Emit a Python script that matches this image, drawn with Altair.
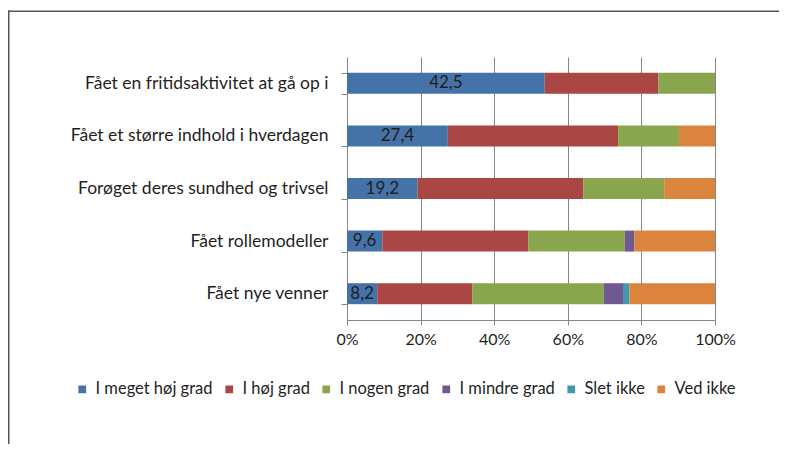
import altair as alt
import pandas as pd

categories = [
    "Fået en fritidsaktivitet at gå op i",
    "Fået et større indhold i hverdagen",
    "Forøget deres sundhed og trivsel",
    "Fået rollemodeller",
    "Fået nye venner",
]
series = ["I meget høj grad", "I høj grad", "I nogen grad", "I mindre grad", "Slet ikke", "Ved ikke"]
colors = ["#4572A7", "#AA4643", "#89A54E", "#71588F", "#4198AF", "#DB843D"]

meget_hoej = [42.5, 27.4, 19.2, 9.6, 8.2]
hoej = [24.4, 46.3, 45.0, 39.7, 25.9]
nogen = [12.2, 16.5, 22.0, 26.2, 35.7]
mindre = [0.0, 0.0, 0.0, 2.6, 5.2]
slet_ikke = [0.0, 0.0, 0.0, 0.0, 1.7]
ved_ikke = [0.0, 9.8, 13.8, 21.9, 23.3]

values = [meget_hoej, hoej, nogen, mindre, slet_ikke, ved_ikke]
rows = []
for si, s in enumerate(series):
    for ci, c in enumerate(categories):
        rows.append({"cat": c, "series": s, "order": si, "value": values[si][ci]})
df = pd.DataFrame(rows)

FONT = "Lato"
TXT = "#1f1f1f"

base = alt.Chart(df).transform_stack(
    stack="value", groupby=["cat"], as_=["v0", "v1"], offset="normalize",
    sort=[alt.SortField("order", order="ascending")]
)

y_enc = alt.Y("cat:N", sort=categories, title=None,
              scale=alt.Scale(paddingInner=0.6, paddingOuter=0.3),
              axis=alt.Axis(tickBand="extent", tickSize=6, tickColor="#868686",
                            domainColor="#868686", labelFont=FONT, labelFontSize=17.5,
                            labelColor=TXT, labelPadding=13, labelLimit=400, grid=False))

bars = base.mark_bar(size=21).encode(
    x=alt.X("v0:Q", title=None,
            scale=alt.Scale(domain=[0, 1], nice=False),
            axis=alt.Axis(format=".0%", values=[0, 0.2, 0.4, 0.6, 0.8, 1.0],
                          grid=True, gridColor="#868686", tickColor="#868686",
                          domainColor="#868686", tickSize=5, labelFont=FONT,
                          labelFontSize=16, labelColor=TXT, labelPadding=6,
                          labelFlush=False, labelOverlap=False)),
    x2="v1:Q",
    y=y_enc,
    color=alt.Color("series:N", sort=series,
                    scale=alt.Scale(domain=series, range=colors),
                    legend=alt.Legend(title=None, orient="none", direction="horizontal",
                                      legendX=-273, legendY=324, columns=6,
                                      symbolType="square", symbolSize=60,
                                      symbolStrokeWidth=0, labelFont=FONT,
                                      labelFontSize=16.5, labelColor=TXT,
                                      columnPadding=8, symbolOffset=0, labelOffset=5)),
)

labels = base.transform_filter(alt.datum.order == 0).transform_calculate(
    mid="(datum.v0 + datum.v1) / 2",
    lab="replace(format(datum.value, '.1f'), '.', ',')",
).mark_text(font=FONT, fontSize=17, color=TXT).encode(
    x="mid:Q", y=alt.Y("cat:N", sort=categories), text="lab:N"
)

frame_data = alt.Data(values=[{"k": 1}])
top_edge = alt.Chart(frame_data).mark_rect(color="#555555", strokeWidth=0).encode(
    x=alt.value(-339), x2=alt.value(432), y=alt.value(-46.5), y2=alt.value(-45)
)
left_edge = alt.Chart(frame_data).mark_rect(color="#555555", strokeWidth=0).encode(
    x=alt.value(-339), x2=alt.value(-337.5), y=alt.value(-46.5), y2=alt.value(387)
)

chart = alt.layer(top_edge, left_edge, bars, labels).properties(
    width=368, height=263,
    autosize=alt.AutoSizeParams(type="none"),
    padding={"left": 339, "top": 49, "right": 64, "bottom": 124},
).configure_view(stroke=None)

chart.save("out.html", embed_options={"renderer": "svg", "actions": False})
